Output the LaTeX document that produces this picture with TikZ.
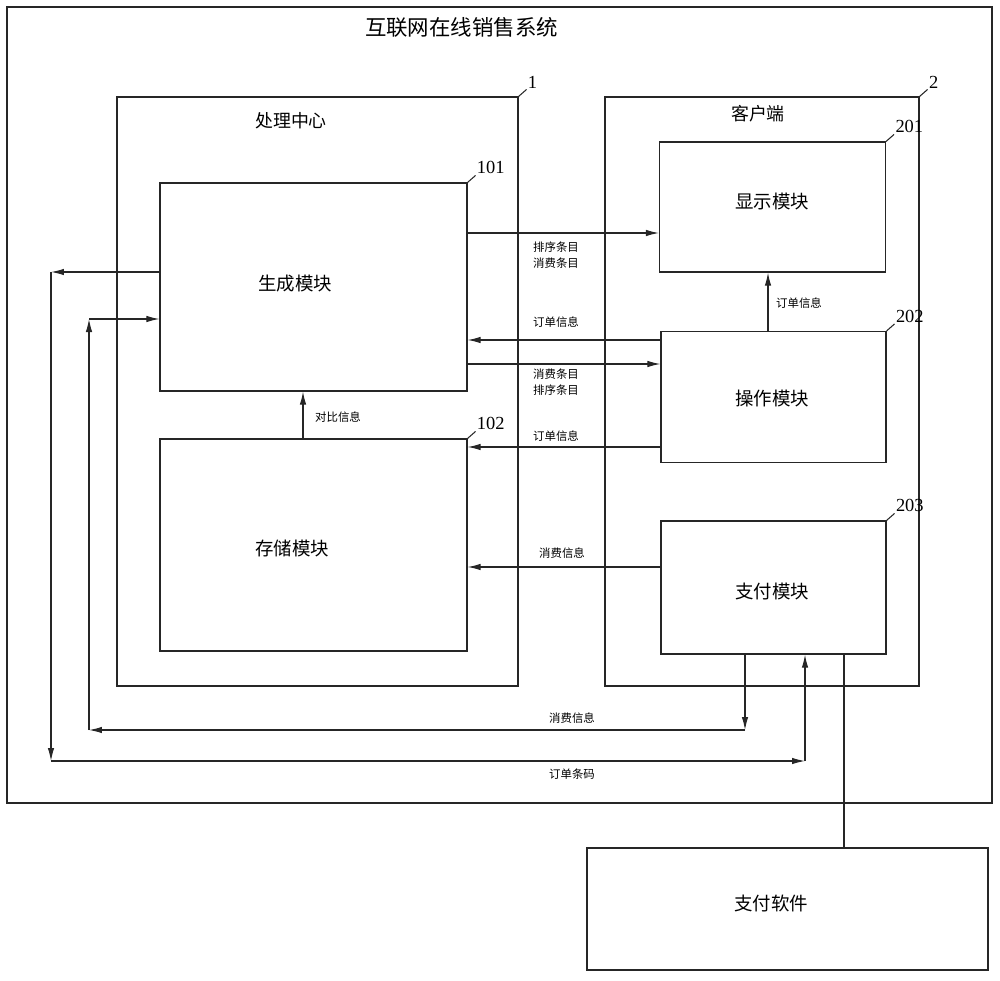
\documentclass[tikz,border=0pt]{standalone}
\usepackage{fontspec}
\setmainfont{Liberation Serif}
\newfontfamily\cjk{Noto Sans CJK SC}
\usetikzlibrary{arrows.meta}
\tikzset{
  blk/.style={draw=black!85, line width=0.7pt, inner sep=0pt},
  ttl/.style={font=\cjk\fontsize{12.2}{14}\selectfont, inner sep=1pt},
  grp/.style={font=\cjk\fontsize{10.2}{12}\selectfont, inner sep=1pt},
  mtxt/.style={font=\cjk\fontsize{10.5}{12}\selectfont, inner sep=1pt},
  flab/.style={font=\cjk\fontsize{6.5}{9.2}\selectfont, inner sep=1pt, align=center},
  num/.style={font=\fontsize{10.5}{12}\selectfont, inner sep=0.5pt, anchor=south west},
  flow/.style={-{Latex[length=2.6mm, width=1.3mm]}, line width=0.65pt, draw=black!85},
  lead/.style={line width=0.6pt, draw=black!85},
}

\begin{document}
\begin{tikzpicture}[x=0.02cm, y=-0.02cm]
    \useasboundingbox (0,0) rectangle (1000,980);
    % system frame
    \node[blk, minimum width=19.7cm, minimum height=15.92cm] (sys) at (499.5,405) {};
    \node[ttl] (systxt) at (461.5,27) {互联网在线销售系统};
    % processing centre
    \node[blk, minimum width=8.02cm, minimum height=11.78cm] (pc) at (317.5,391.5) {};
    \node[grp] (pctxt) at (291,121) {处理中心};
    \node[blk, minimum width=6.14cm, minimum height=4.16cm] (gen) at (313.5,287) {};
    \node[mtxt] (gentxt) at (295,284) {生成模块};
    \node[blk, minimum width=6.14cm, minimum height=4.24cm] (store) at (313.5,545) {};
    \node[mtxt] (storetxt) at (292,548) {存储模块};
    % client
    \node[blk, minimum width=6.28cm, minimum height=11.78cm] (cli) at (762,391.5) {};
    \node[grp] (clitxt) at (758,114) {客户端};
    \node[blk, minimum width=4.52cm, minimum height=2.6cm] (disp) at (772.5,207) {};
    \node[mtxt] (disptxt) at (772,202) {显示模块};
    \node[blk, minimum width=4.5cm, minimum height=2.62cm] (oper) at (773.5,397) {};
    \node[mtxt] (opertxt) at (772,399) {操作模块};
    \node[blk, minimum width=4.5cm, minimum height=2.66cm] (pay) at (773.5,587.5) {};
    \node[mtxt] (paytxt) at (772,591) {支付模块};
    % payment software
    \node[blk, minimum width=8.02cm, minimum height=2.44cm] (soft) at (787.5,909) {};
    \node[mtxt] (softtxt) at (771,903) {支付软件};
    % reference numbers
    \draw[lead] (pc.north east) -- ++(8,-7) node[num] {1};
    \draw[lead] (cli.north east) -- ++(8,-7) node[num] {2};
    \draw[lead] (gen.north east) -- ++(8,-7) node[num] {101};
    \draw[lead] (store.north east) -- ++(8,-7) node[num] {102};
    \draw[lead] (disp.north east) -- ++(8,-7) node[num] {201};
    \draw[lead] (oper.north east) -- ++(8,-7) node[num] {202};
    \draw[lead] (pay.north east) -- ++(8,-7) node[num] {203};
    % flows between the two sides
    \draw[flow] (gen.east |- 0,233) -- (disp.west |- 0,233);
    \node[flab] (l1) at (556,255) {排序条目\\消费条目};
    \draw[flow] (oper.west |- 0,340) -- (gen.east |- 0,340);
    \node[flab] (l2) at (556,322) {订单信息};
    \draw[flow] (gen.east |- 0,364) -- (oper.west |- 0,364);
    \node[flab] (l3) at (556,382) {消费条目\\排序条目};
    \draw[flow] (oper.west |- 0,447) -- (store.east |- 0,447);
    \node[flab] (l4) at (556,436) {订单信息};
    \draw[flow] (pay.west |- 0,567) -- (store.east |- 0,567);
    \node[flab] (l5) at (562,553) {消费信息};
    \draw[flow] (oper.north -| 768,0) -- (disp.south -| 768,0);
    \node[flab] (l6) at (799,303) {订单信息};
    \draw[flow] (store.north -| 303,0) -- (gen.south -| 303,0);
    \node[flab] (l7) at (338,417) {对比信息};
    % order barcode loop
    \coordinate (ob1) at (51,272);
    \coordinate (ob2) at (51,761);
    \coordinate (ob3) at (805,761);
    \draw[flow] (gen.west |- ob1) -- (ob1);
    \draw[flow] (ob1) -- (ob2);
    \draw[flow] (ob2) -- (ob3);
    \draw[flow] (ob3) -- (pay.south -| ob3);
    \node[flab] (l8) at (572,774) {订单条码};
    % consumption info loop
    \coordinate (ci1) at (745,730);
    \coordinate (ci2) at (89,730);
    \coordinate (ci3) at (89,319);
    \draw[flow] (pay.south -| ci1) -- (ci1);
    \draw[flow] (ci1) -- (ci2);
    \draw[flow] (ci2) -- (ci3);
    \draw[flow] (ci3) -- (gen.west |- ci3);
    \node[flab] (l9) at (572,718) {消费信息};
    % link to payment software
    \draw[lead] (pay.south -| 844,0) -- (soft.north -| 844,0);
\end{tikzpicture}
\end{document}
